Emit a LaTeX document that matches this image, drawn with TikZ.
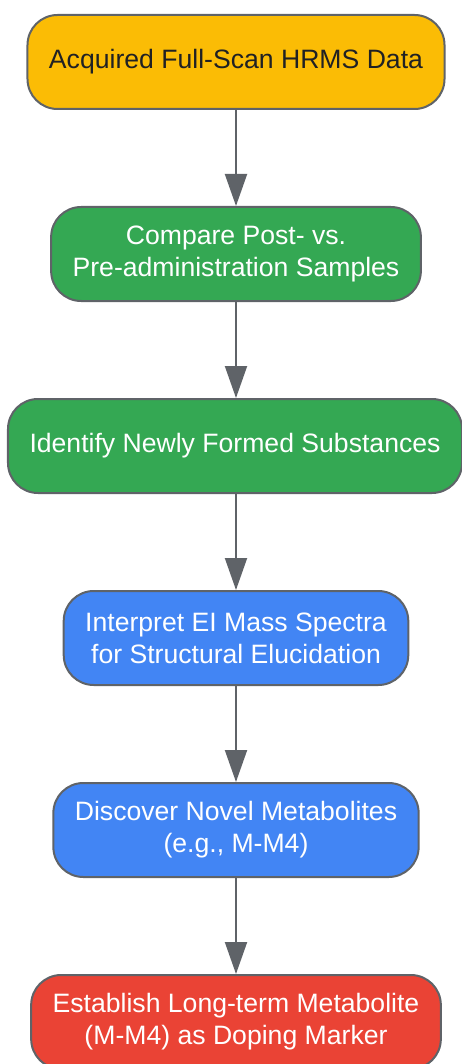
\documentclass[tikz,border=0pt]{standalone}
\usepackage{fontspec}
\setmainfont{Liberation Sans}
\usepackage{tikz}
\usetikzlibrary{arrows.meta}

\definecolor{flowgrey}{HTML}{5F6368}
\definecolor{flowyellow}{HTML}{FBBC05}
\definecolor{flowgreen}{HTML}{34A853}
\definecolor{flowblue}{HTML}{4285F4}
\definecolor{flowred}{HTML}{EA4335}
\definecolor{flowtext}{HTML}{202124}

\tikzset{
    stepnode/.style={draw=flowgrey, line width=2pt, rounded corners=30pt,
        minimum height=94pt, inner xsep=21.5pt, align=center, text=white,
        font=\fontsize{26.6}{32}\selectfont},
    flowarrow/.style={draw=flowgrey, line width=2pt,
        -{Triangle[width=22pt,length=32pt]}}
}

\begin{document}
\begin{tikzpicture}[x=1pt, y=-1pt]
        \useasboundingbox (0,0) rectangle (461,1064);

        \node (acquire) at (236,62) [stepnode, fill=flowyellow, text=flowtext] {Acquired Full-Scan HRMS Data};
        \node (compare) at (236,254) [stepnode, fill=flowgreen] {Compare Post- vs.\\Pre-administration Samples};
        \node (identify) at (235,446) [stepnode, fill=flowgreen] {Identify Newly Formed Substances};
        \node (interpret) at (236,638) [stepnode, fill=flowblue] {Interpret EI Mass Spectra\\for Structural Elucidation};
        \node (discover) at (236,830) [stepnode, fill=flowblue] {Discover Novel Metabolites\\(e.g., M-M4)};
        \node (establish) at (236,1022) [stepnode, fill=flowred] {Establish Long-term Metabolite\\(M-M4) as Doping Marker};

        \draw [flowarrow] (acquire) -- (compare);
        \draw [flowarrow] (compare) -- (compare |- identify.north);
        \draw [flowarrow] (identify.south -| compare.south) -- (interpret);
        \draw [flowarrow] (interpret) -- (discover);
        \draw [flowarrow] (discover) -- (establish);
    \end{tikzpicture}
\end{document}
